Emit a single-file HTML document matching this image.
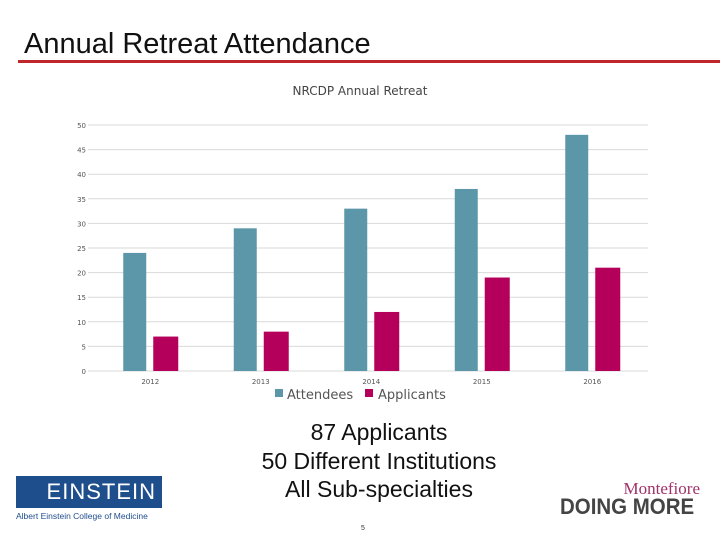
<!DOCTYPE html>
<html><head><meta charset="utf-8"><style>
body{margin:0;width:720px;height:540px;background:#fff;overflow:hidden;position:relative;font-family:"Liberation Sans",sans-serif}
.abs{position:absolute}
</style></head><body>
<div class="abs" style="left:24px;top:28px;font-size:29px;color:#111">Annual Retreat Attendance</div>
<div class="abs" style="left:18px;top:60px;width:702px;height:3px;background:#c0272d"></div>
<svg class="abs" style="left:0;top:0" width="720" height="420">
<text x="360" y="95" text-anchor="middle" font-size="12" fill="#444" font-family="DejaVu Sans">NRCDP Annual Retreat</text>
<g id="grid"></g><g id="bars"></g><g id="xlabels"></g>
<rect x="275" y="389" width="8" height="8" fill="#5b97a8"/>
<text x="287" y="399" font-size="13" fill="#555" font-family="DejaVu Sans">Attendees</text>
<rect x="365" y="389" width="8" height="8" fill="#b5005b"/>
<text x="378" y="399" font-size="13" fill="#555" font-family="DejaVu Sans">Applicants</text>
</svg>
<div class="abs" style="left:180px;top:418px;width:398px;text-align:center;font-size:23px;line-height:28.5px;color:#111">87 Applicants<br>50 Different Institutions<br>All Sub-specialties</div>
<div class="abs" style="left:16px;top:476px;width:146px;height:32px;background:#1f4e8c;color:#fff;font-size:22px;line-height:32px;letter-spacing:1px;text-align:right;box-sizing:border-box;padding-right:6px">EINSTEIN</div>
<div class="abs" style="left:16px;top:511px;font-size:8.5px;color:#1f4e8c">Albert Einstein College of Medicine</div>
<div class="abs" style="left:600px;top:479px;width:100px;text-align:right;font-family:'Liberation Serif',serif;font-size:17px;color:#a0306a">Montefiore</div>
<div class="abs" style="left:560px;top:494px;font-size:22px;font-weight:bold;color:#444;transform:scaleX(0.93);transform-origin:left top">DOING MORE</div>
<div class="abs" style="left:361px;top:525px;font-size:7px;color:#333">5</div>
<script>
const categories=["2012","2013","2014","2015","2016"];
const attendees=[24,29,33,37,48];
const applicants=[7,8,12,19,21];
const yTicks=[0,5,10,15,20,25,30,35,40,45,50];
const NS="http://www.w3.org/2000/svg";
const y0=371,y1=125,left=88,right=648,bandStart=95,bandW=110.5;
const y=v=>y0-(v/50)*(y0-y1);
const xc=i=>bandStart+bandW*(i+0.5);
function mk(t,a,p){const e=document.createElementNS(NS,t);for(const k in a)e.setAttribute(k,a[k]);p.appendChild(e);return e;}
const g=document.getElementById('grid'),b=document.getElementById('bars'),xl=document.getElementById('xlabels');
yTicks.forEach(v=>{
 const l=mk('line',{x1:left,x2:right,y1:y(v),y2:y(v),stroke:'#d9d9d9','stroke-width':1},g);
 
 
 const t=mk('text',{x:86,y:y(v)+3,'text-anchor':'end','font-size':7,fill:'#555','font-family':'DejaVu Sans'},g);
 t.textContent=v;
 
 
});
categories.forEach((c,i)=>{
 const a=mk('rect',{x:xc(i)-27,y:y(attendees[i]),width:23,height:y0-y(attendees[i]),fill:'#5b97a8'},b);
 
 
 const p=mk('rect',{x:xc(i)+3,y:y(applicants[i]),width:25,height:y0-y(applicants[i]),fill:'#b5005b'},b);
 
 
 const t=mk('text',{x:xc(i),y:384,'text-anchor':'middle','font-size':7,fill:'#555','font-family':'DejaVu Sans'},xl);
 t.textContent=c;
 
 
});
</script>
</body></html>
